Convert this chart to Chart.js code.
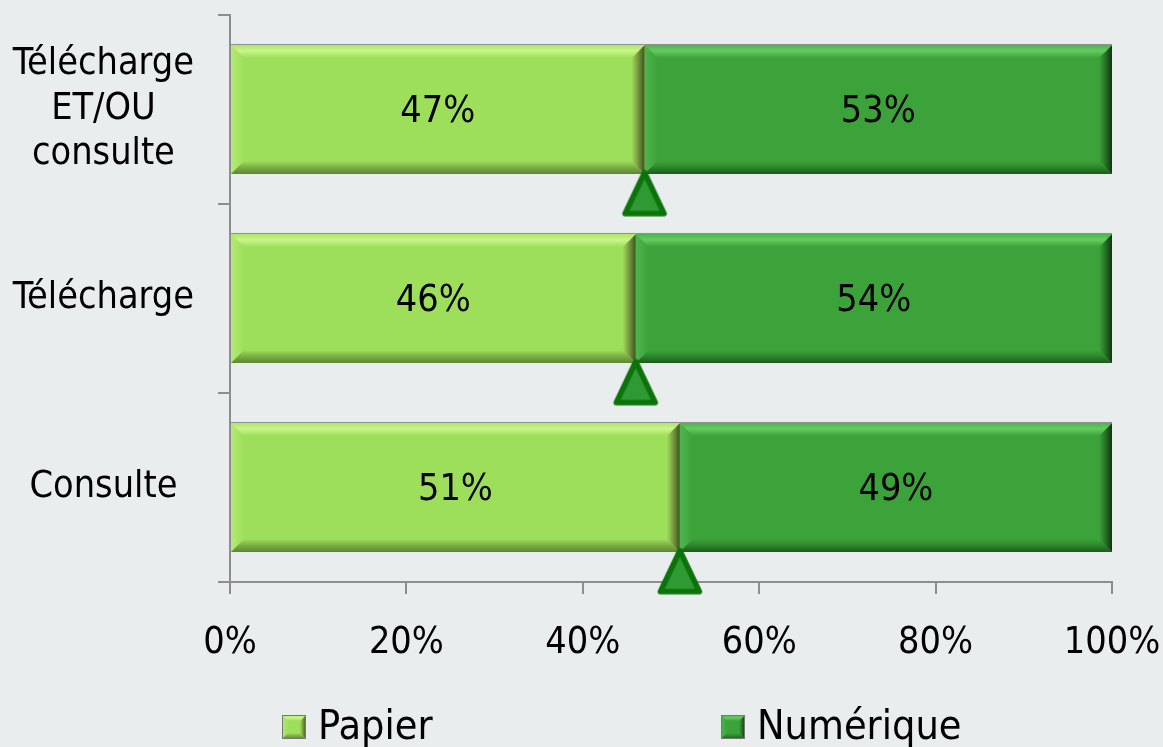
<!DOCTYPE html>
<html><head><meta charset="utf-8">
<script src="https://cdn.jsdelivr.net/npm/chart.js@4.4.1/dist/chart.umd.min.js"></script>
<style>html,body{margin:0;padding:0;background:#e9eded;} #wrap{width:1163px;height:747px;position:relative;}</style>
</head><body><div id="wrap"><canvas id="c"></canvas></div>
<script>
// ---- data ----
const categories = [['Télécharge', 'ET/OU', 'consulte'], 'Télécharge', 'Consulte'];
const papier = [47, 46, 51];
const numerique = [53, 54, 49];
const seriesNames = ['Papier', 'Numérique'];
const xTickLabels = ['0%', '20%', '40%', '60%', '80%', '100%'];

// ---- styles ----
const FONT = '"DejaVu Sans Condensed", "DejaVu Sans", sans-serif';
const FS = 37.5;
const AXIS = '#8e8e8e';
const MARKER_OFFSET = 0.445;
const LEGEND_X = [282, 721];
const LEGEND_Y = 727;
const bevelStyles = [
  { main: '#9ddf5a', top: ['#aee56b', '#c9f688', '#9ddf5a'], bottom: ['#9ddf5a', '#7eb146', '#5b8732'],
    left: ['#b4ea77', '#9ddf5a'], right: ['#9ddf5a', '#7c9e44', '#3c5422'] },
  { main: '#3ca33a', top: ['#4cb54a', '#64cb61', '#3ca33a'], bottom: ['#3ca33a', '#2d8a2c', '#1d5a1d'],
    left: ['#4fb44d', '#3ca33a'], right: ['#3ca33a', '#277826', '#123212'] }
];

function poly(ctx, pts, fill) {
  ctx.beginPath();
  ctx.moveTo(pts[0][0], pts[0][1]);
  for (let i = 1; i < pts.length; i++) ctx.lineTo(pts[i][0], pts[i][1]);
  ctx.closePath();
  ctx.fillStyle = fill;
  ctx.fill();
}
function grad(ctx, x0, y0, x1, y1, stops) {
  const g = ctx.createLinearGradient(x0, y0, x1, y1);
  stops.forEach((c, i) => g.addColorStop(stops.length === 3 ? [0, 0.45, 1][i] : i / (stops.length - 1), c));
  return g;
}
function drawBevel(ctx, l, t, r, b, st, w) {
  ctx.save();
  poly(ctx, [[l, t], [r, t], [r, b], [l, b]], st.main);
  poly(ctx, [[l, t], [l + w, t + w], [l + w, b - w], [l, b]], grad(ctx, l, 0, l + w, 0, st.left));
  poly(ctx, [[r, t], [r - w, t + w], [r - w, b - w], [r, b]], grad(ctx, r - w, 0, r, 0, st.right));
  poly(ctx, [[l, t], [r, t], [r - w, t + w], [l + w, t + w]], grad(ctx, 0, t, 0, t + w, st.top));
  poly(ctx, [[l, b], [r, b], [r - w, b - w], [l + w, b - w]], grad(ctx, 0, b - w, 0, b, st.bottom));
  ctx.restore();
}

function makeTriangle() {
  const c = document.createElement('canvas');
  c.width = 48; c.height = 50;
  const g = c.getContext('2d');
  g.beginPath();
  g.moveTo(24, 4); g.lineTo(43.5, 45); g.lineTo(4.5, 45); g.closePath();
  g.fillStyle = '#2f9a33'; g.fill();
  g.lineJoin = 'round'; g.lineWidth = 5.5; g.strokeStyle = '#0a740a'; g.stroke();
  return c;
}

const bevelPlugin = {
  id: 'bevel',
  afterDatasetDraw(chart, args) {
    const meta = args.meta;
    if (meta.type !== 'bar') return;
    const st = bevelStyles[args.index];
    const ctx = chart.ctx;
    meta.data.forEach(el => {
      const p = el.getProps(['x', 'y', 'base', 'height']);
      const l = Math.min(p.x, p.base), r = Math.max(p.x, p.base);
      const t = p.y - p.height / 2, b = p.y + p.height / 2;
      drawBevel(ctx, l, t, r, b, st, 13);
      ctx.save();
      ctx.fillStyle = 'rgba(120,120,120,0.8)';
      ctx.fillRect(l, t - 1, r - l, 1);
      ctx.restore();
    });
  }
};

const labelPlugin = {
  id: 'barLabels',
  afterDatasetsDraw(chart) {
    const ctx = chart.ctx;
    ctx.save();
    ctx.font = FS + 'px ' + FONT;
    ctx.fillStyle = '#000';
    ctx.textAlign = 'center';
    ctx.textBaseline = 'middle';
    chart.data.datasets.forEach((ds, di) => {
      const meta = chart.getDatasetMeta(di);
      if (meta.type !== 'bar') return;
      meta.data.forEach((el, i) => {
        const p = el.getProps(['x', 'y', 'base']);
        ctx.fillText(ds.data[i] + '%', (p.x + p.base) / 2, p.y + 3);
      });
    });
    ctx.restore();
  }
};

const legendPlugin = {
  id: 'customLegend',
  afterDraw(chart) {
    const ctx = chart.ctx;
    ctx.save();
    let k = 0;
    chart.data.datasets.forEach((ds, di) => {
      if (chart.getDatasetMeta(di).type !== 'bar') return;
      const x = LEGEND_X[k], y = LEGEND_Y;
      drawBevel(ctx, x, y - 12, x + 24, y + 12, bevelStyles[di], 6);
      ctx.strokeStyle = '#777';
      ctx.lineWidth = 1;
      ctx.strokeRect(x + 0.5, y - 11.5, 23, 23);
      ctx.font = '41px ' + FONT;
      ctx.fillStyle = '#000';
      ctx.textAlign = 'left';
      ctx.textBaseline = 'middle';
      ctx.fillText(ds.label, x + 36, y + 1);
      k++;
    });
    ctx.restore();
  }
};

new Chart(document.getElementById('c'), {
  type: 'bar',
  data: {
    labels: categories,
    datasets: [
      { label: seriesNames[0], data: papier, backgroundColor: bevelStyles[0].main, indexAxis: 'y', order: 2,
        xAxisID: 'x', yAxisID: 'y', stack: 'main', grouped: false,
        barPercentage: 0.683, categoryPercentage: 1, borderWidth: 0 },
      { label: seriesNames[1], data: numerique, backgroundColor: bevelStyles[1].main, indexAxis: 'y', order: 2,
        xAxisID: 'x', yAxisID: 'y', stack: 'main', grouped: false,
        barPercentage: 0.683, categoryPercentage: 1, borderWidth: 0 },
      { type: 'scatter', label: 'marker', indexAxis: 'x', xAxisID: 'x', yAxisID: 'yPos', order: 0, clip: false,
        data: papier.map((v, i) => ({ x: v, y: i + MARKER_OFFSET })),
        pointStyle: makeTriangle(), pointRadius: 10, pointHoverRadius: 10 }
    ]
  },
  options: {
    indexAxis: 'y',
    responsive: true,
    maintainAspectRatio: false,
    animation: false,
    events: [],
    layout: { padding: { top: 15, right: 51, bottom: 0, left: 0 } },
    plugins: { legend: { display: false }, tooltip: { enabled: false } },
    scales: {
      x: {
        type: 'linear', position: 'bottom', min: 0, max: 100, stacked: true,
        ticks: { stepSize: 20, color: '#000', font: { family: FONT, size: FS }, padding: 27,
          maxRotation: 0, autoSkip: false, callback: (v, i) => xTickLabels[i] },
        grid: { drawOnChartArea: false, drawTicks: true, tickLength: 12, color: AXIS, lineWidth: 2 },
        border: { display: true, color: AXIS, width: 2 },
        afterFit(s) { s.height = 165; s.paddingLeft = 0; s.paddingRight = 0; }
      },
      y: {
        type: 'category', position: 'left', stacked: true,
        ticks: { color: '#000', font: { family: FONT, size: FS, lineHeight: 1.2 }, padding: 24, crossAlign: 'center' },
        grid: { offset: true, drawOnChartArea: false, drawTicks: true, tickLength: 12, color: AXIS, lineWidth: 2 },
        border: { display: true, color: AXIS, width: 2 },
        afterFit(s) { s.width = 230; s.paddingTop = 0; s.paddingBottom = 0; }
      },
      yPos: { type: 'linear', axis: 'y', display: false, offset: false, min: -0.5, max: 2.5, reverse: true }
    }
  },
  plugins: [bevelPlugin, labelPlugin, legendPlugin]
});
</script>
</body></html>
